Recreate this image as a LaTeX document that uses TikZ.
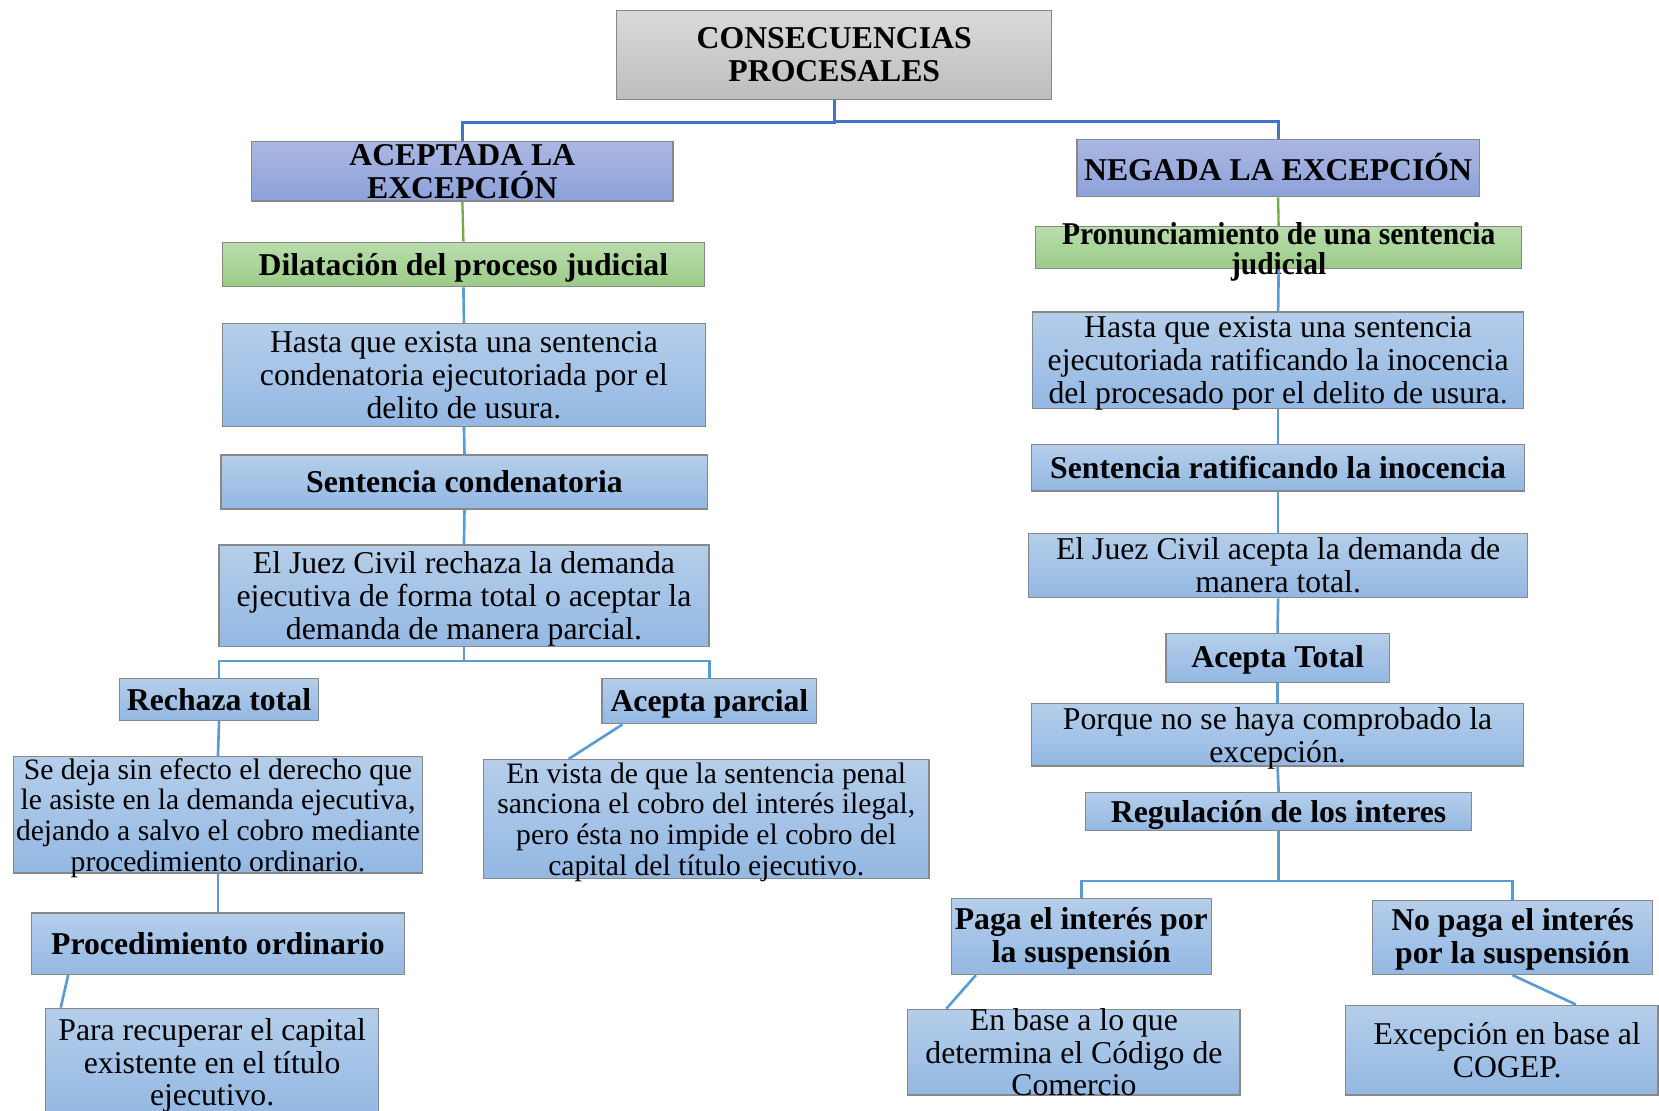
\documentclass[tikz,border=0pt]{standalone}
\usepackage{fontspec}
\setmainfont{Liberation Serif}
\newfontfamily\condfont[FakeStretch=0.93]{Liberation Serif}
\usetikzlibrary{calc}
\definecolor{grayT}{HTML}{DADADA}
\definecolor{grayB}{HTML}{BDBDBD}
\definecolor{purT}{HTML}{ABB7E2}
\definecolor{purB}{HTML}{8CA2D9}
\definecolor{grnT}{HTML}{B9DDAC}
\definecolor{grnB}{HTML}{9BCB86}
\definecolor{bluT}{HTML}{B5CEEA}
\definecolor{bluB}{HTML}{93B8E3}
\definecolor{bord}{HTML}{888888}
\definecolor{dkline}{HTML}{4472C4}
\definecolor{ltline}{HTML}{5B9BD5}
\definecolor{gnline}{HTML}{70AD47}
\tikzset{
  basebox/.style={draw=bord, line width=0.6pt, inner sep=0pt, rectangle},
  graybox/.style={basebox, top color=grayT, bottom color=grayB},
  purbox/.style={basebox, top color=purT, bottom color=purB},
  grnbox/.style={basebox, top color=grnT, bottom color=grnB},
  blubox/.style={basebox, top color=bluT, bottom color=bluB},
  every label/.style={align=center, inner sep=0pt, font=\fontsize{15}{15.5}\selectfont},
  bld/.style={font=\fontsize{15}{15.5}\selectfont\bfseries},
  small/.style={font=\fontsize{14}{14.5}\selectfont},
  dn/.style={yshift=-1.5pt},
  dkconn/.style={draw=dkline, line width=1.3pt},
  ltconn/.style={draw=ltline, line width=1.25pt},
  gnconn/.style={draw=gnline, line width=1.1pt},
}
% style, name, x1, y1, x2, y2, label options, text
\newcommand\mybox[8]{%
  \node[#1, minimum width={(#5-#3)*0.5pt}, minimum height={(#6-#4)*0.5pt},
        label={[#7]center:{#8}}] (#2) at ({(#3+#5)/2},{(#4+#6)/2}) {};}
\begin{document}
\begin{tikzpicture}[x=0.5pt,y=-0.5pt]
\useasboundingbox (0,0) rectangle (1568,1050);
% top
\mybox{graybox}{top}{583}{10}{994}{94}{bld}{CONSECUENCIAS\\PROCESALES}
\mybox{purbox}{acep}{238}{134}{636}{190}{bld}{ACEPTADA LA\\EXCEPCIÓN}
\mybox{purbox}{neg}{1018}{132}{1398}{186}{bld,yshift=0.5pt}{NEGADA LA EXCEPCIÓN}
% left column
\mybox{grnbox}{dil}{210}{229}{666}{271}{bld,dn}{Dilatación del proceso judicial}
\mybox{blubox}{hasta1}{210}{306}{667}{403}{}{Hasta que exista una sentencia\\condenatoria ejecutoriada por el\\delito de usura.}
\mybox{blubox}{sc}{209}{430}{669}{481}{bld}{Sentencia condenatoria}
\mybox{blubox}{juez1}{207}{515}{670}{611}{dn}{El Juez Civil rechaza la demanda\\ejecutiva de forma total o aceptar la\\demanda de manera parcial.}
\mybox{blubox}{rech}{113}{641}{301}{681}{bld}{Rechaza total}
\mybox{blubox}{apar}{569}{641}{772}{684}{bld,dn}{Acepta parcial}
\mybox{blubox}{sedeja}{13}{715}{399}{825}{small,dn}{Se deja sin efecto el derecho que\\le asiste en la demanda ejecutiva,\\dejando a salvo el cobro mediante\\procedimiento ordinario.}
\mybox{blubox}{envista}{457}{718}{878}{830}{small,dn}{En vista de que la sentencia penal\\sanciona el cobro del interés ilegal,\\pero ésta no impide el cobro del\\capital del título ejecutivo.}
\mybox{blubox}{proc}{30}{863}{382}{921}{bld}{Procedimiento ordinario}
\mybox{blubox}{para}{43}{953}{358}{1055}{dn}{Para recuperar el capital\\existente en el título\\ejecutivo.}
% right column
\mybox{grnbox}{pron}{979}{214}{1438}{254}{font=\fontsize{15}{14.5}\condfont\bfseries,yshift=-2pt}{Pronunciamiento de una sentencia\\judicial}
\mybox{blubox}{hasta2}{976}{295}{1440}{386}{dn}{Hasta que exista una sentencia\\ejecutoriada ratificando la inocencia\\del procesado por el delito de usura.}
\mybox{blubox}{sr}{975}{420}{1441}{464}{bld}{Sentencia ratificando la inocencia}
\mybox{blubox}{juez2}{972}{504}{1444}{565}{}{El Juez Civil acepta la demanda de\\manera total.}
\mybox{blubox}{atot}{1102}{599}{1313}{645}{bld,yshift=-1pt}{Acepta Total}
\mybox{blubox}{porque}{975}{665}{1440}{724}{dn}{Porque no se haya comprobado la\\excepción.}
\mybox{blubox}{reg}{1026}{749}{1391}{785}{bld,dn}{Regulación de los interes}
\mybox{blubox}{paga}{899}{849}{1145}{921}{bld,yshift=-1pt}{Paga el interés por\\la suspensión}
\mybox{blubox}{nopaga}{1297}{851}{1562}{921}{bld,yshift=-1pt}{No paga el interés\\por la suspensión}
\mybox{blubox}{enbase}{858}{954}{1172}{1035}{}{En base a lo que\\determina el Código de\\Comercio}
\mybox{blubox}{excep}{1272}{950}{1567}{1035}{xshift=2.5pt}{Excepción en base al\\COGEP.}
% connectors
\draw[dkconn] (top.south) -- ++(0,21) -| (acep.north);
\draw[dkconn] (top.south) -- ++(0,20) -| (neg.north);
\draw[gnconn] (acep.south) -- (dil.north);
\draw[gnconn] (neg.south) -- (pron.north);
\draw[ltconn] (dil.south) -- (hasta1.north);
\draw[ltconn] (hasta1.south) -- (sc.north);
\draw[ltconn] (sc.south) -- (juez1.north);
\draw[ltconn] (juez1.south) -- ++(0,13) -| (rech.north);
\draw[ltconn] (juez1.south) -- ++(0,13) -| (apar.north);
\draw[ltconn] (rech.south) -- (sedeja.north);
\draw[ltconn] (sedeja.south) -- (proc.north);
\draw[ltconn] ($(proc.south west)+(35,0)$) -- ($(para.north west)+(15,0)$);
\draw[ltconn] ($(apar.south west)+(20,0)$) -- ($(envista.north west)+(81,0)$);
\draw[ltconn] (pron.south) -- (hasta2.north);
\draw[ltconn] (hasta2.south) -- (sr.north);
\draw[ltconn] (sr.south) -- (juez2.north);
\draw[ltconn] (juez2.south) -- (atot.north);
\draw[ltconn] (atot.south) -- (porque.north);
\draw[ltconn] (porque.south) -- (reg.north);
\draw[ltconn] (reg.south) -- ++(0,47) -| (paga.north);
\draw[ltconn] (reg.south) -- ++(0,47) -| (nopaga.north);
\draw[ltconn] ($(paga.south west)+(24,0)$) -- ($(enbase.north west)+(37,0)$);
\draw[ltconn] (nopaga.south) -- ($(excep.north west)+(218,0)$);
\end{tikzpicture}
\end{document}
